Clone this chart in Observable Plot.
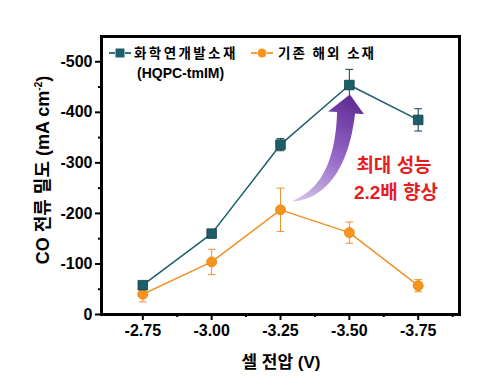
<!DOCTYPE html>
<html><head><meta charset="utf-8">
<script src="https://cdn.jsdelivr.net/npm/d3@7"></script>
<script src="https://cdn.jsdelivr.net/npm/@observablehq/plot@0.6"></script>
<style>body{margin:0;background:#fff} #chart{width:495px;height:391px}</style>
</head><body><div id="chart"></div>
<script>
// ---- data ----
const voltages = [-2.75, -3.00, -3.25, -3.50, -3.75];
const kriValues = [-58, -160, -336, -454, -385];
const kriErrors = [5, 5, 12, 31, 22];
const foreignValues = [-40, -104, -207, -162, -57];
const foreignErrors = [15, 25, 43, 21, 12];
const xTicks = [-2.75, -3.00, -3.25, -3.50, -3.75];
const xMinorTicks = [-2.875, -3.125, -3.375, -3.625, -3.875];
const yTicks = [0, -100, -200, -300, -400, -500];
const yMinorTicks = [-50, -150, -250, -350, -450];
const seriesNames = ["화학연개발소재", "기존 해외 소재"];
const seriesSub = "(HQPC-tmIM)";
const xLabel = "셀 전압 (V)";
const yLabel = "CO 전류 밀도 (mA cm";
const noteLines = ["최대 성능", "2.2배 향상"];
// arrow: tail, bend control, shaft end, tip (data units)
const arrowTail = {v: -3.2936, j: -223};
const arrowBend = {v: -3.468, j: -245};
const arrowShaft = {v: -3.49, j: -398};
const arrowTip = {v: -3.504, j: -434};

const teal = "#1c5f6b", tealDark = "#0f3f48", orange = "#f7941d", orangeLine = "#f0922a";
const capHalf = 0.014;

const kri = voltages.map((v, i) => ({v, j: kriValues[i], e: kriErrors[i]}));
const foreign = voltages.map((v, i) => ({v, j: foreignValues[i], e: foreignErrors[i]}));

const errMarks = (data, color) => [
  Plot.link(data, {x1: "v", x2: "v", y1: d => d.j - d.e, y2: d => d.j + d.e, stroke: color, strokeWidth: 1}),
  Plot.link(data, {x1: d => d.v - capHalf, x2: d => d.v + capHalf, y1: d => d.j - d.e, y2: d => d.j - d.e, stroke: color, strokeWidth: 1}),
  Plot.link(data, {x1: d => d.v - capHalf, x2: d => d.v + capHalf, y1: d => d.j + d.e, y2: d => d.j + d.e, stroke: color, strokeWidth: 1})
];

const chart = Plot.plot({
  width: 495, height: 391,
  marginLeft: 101, marginRight: 36, marginTop: 36, marginBottom: 77,
  style: {fontFamily: "'Liberation Sans', Arial, sans-serif", fontWeight: "bold", fontSize: "16px", color: "#000", background: "#fff", overflow: "visible"},
  x: {domain: [-2.6, -3.9]},
  y: {domain: [0, -550]},
  marks: [
    Plot.axisX(xTicks, {tickSize: 6, tickPadding: 4, strokeWidth: 2, tickFormat: d => d.toFixed(2), label: null, fontSize: 16}),
    Plot.axisX(xMinorTicks, {tickSize: 3, strokeWidth: 2, tickFormat: () => "", label: null}),
    Plot.axisY(yTicks, {tickSize: 6, tickPadding: 3, strokeWidth: 2, tickFormat: d => String(d), label: null, fontSize: 16}),
    Plot.axisY(yMinorTicks, {tickSize: 3, strokeWidth: 2, tickFormat: () => "", label: null}),
    ...errMarks(foreign, orangeLine),
    Plot.line(foreign, {x: "v", y: "j", stroke: orangeLine, strokeWidth: 1.5}),
    Plot.dot(foreign, {x: "v", y: "j", r: 5, fill: orange, stroke: "#e98512", strokeWidth: 0.8}),
    ...errMarks(kri, tealDark),
    Plot.line(kri, {x: "v", y: "j", stroke: teal, strokeWidth: 1.5}),
    Plot.dot(kri, {x: "v", y: "j", r: 5.4, symbol: "square", fill: teal, stroke: tealDark, strokeWidth: 0.8}),
    Plot.frame({stroke: "#000", strokeWidth: 3})
  ]
});
document.getElementById("chart").appendChild(chart);

const sx = chart.scale("x"), sy = chart.scale("y");
const svg = d3.select(chart);
const korean = "'Liberation Sans', 'Noto Sans CJK KR', sans-serif";

// ---- arrow (curved tapered, gradient) ----
const P = p => [sx.apply(p.v), sy.apply(p.j)];
const T = P(arrowTail), C = P(arrowBend), S = P(arrowShaft), H = P(arrowTip);
const defs = svg.insert("defs", ":first-child");
const grad = defs.append("linearGradient").attr("id", "arrowGrad").attr("gradientUnits", "userSpaceOnUse")
  .attr("x1", T[0]).attr("y1", T[1]).attr("x2", H[0]).attr("y2", H[1]);
grad.append("stop").attr("offset", "0").attr("stop-color", "#d8c8ec");
grad.append("stop").attr("offset", "0.5").attr("stop-color", "#9466c6");
grad.append("stop").attr("offset", "1").attr("stop-color", "#5e2a93");
const N = 30, wMax = 9, left = [], right = [];
for (let k = 0; k <= N; k++) {
  const t = k / N;
  const x = (1-t)*(1-t)*T[0] + 2*t*(1-t)*C[0] + t*t*S[0];
  const y = (1-t)*(1-t)*T[1] + 2*t*(1-t)*C[1] + t*t*S[1];
  const dx = 2*(1-t)*(C[0]-T[0]) + 2*t*(S[0]-C[0]);
  const dy = 2*(1-t)*(C[1]-T[1]) + 2*t*(S[1]-C[1]);
  const L = Math.hypot(dx, dy) || 1;
  const nx = -dy / L, ny = dx / L;
  const w = wMax * Math.pow(t, 0.7);
  left.push([x + nx*w, y + ny*w]);
  right.push([x - nx*w, y - ny*w]);
}
// head
const dxs = S[0] - C[0], dys = S[1] - C[1], Ls = Math.hypot(dxs, dys);
const nxs = -dys / Ls, nys = dxs / Ls, headHalf = 18;
const hl = [S[0] + nxs*headHalf, S[1] + nys*headHalf], hr = [S[0] - nxs*headHalf, S[1] - nys*headHalf];
const pts = [...left, hl, H, hr, ...right.reverse()];
svg.append("path").attr("d", "M" + pts.map(p => p[0].toFixed(1) + "," + p[1].toFixed(1)).join("L") + "Z")
  .attr("fill", "url(#arrowGrad)");

// ---- note text ----
const note = svg.append("text").attr("font-family", korean).attr("font-weight", "bold")
  .attr("font-size", 19).attr("fill", "#e31e24").attr("text-anchor", "middle");
note.append("tspan").attr("x", 394).attr("y", 172).text(noteLines[0]);
note.append("tspan").attr("x", 396).attr("y", 199).text(noteLines[1]);

// ---- legend ----
const lg = svg.append("g").attr("font-family", korean).attr("font-weight", "bold").attr("font-size", 13.5).attr("text-anchor", "start");
function legendSym(g, x, y, color, sym) {
  g.append("line").attr("x1", x - 11).attr("x2", x - 5).attr("y1", y).attr("y2", y).attr("stroke", color).attr("stroke-width", 1.8);
  g.append("line").attr("x1", x + 5).attr("x2", x + 11).attr("y1", y).attr("y2", y).attr("stroke", color).attr("stroke-width", 1.8);
  if (sym === "square") g.append("rect").attr("x", x - 4.5).attr("y", y - 4.5).attr("width", 9).attr("height", 9).attr("fill", teal);
  else g.append("circle").attr("cx", x).attr("cy", y).attr("r", 4.5).attr("fill", orange);
}
legendSym(lg, 120, 53, teal, "square");
lg.append("text").attr("x", 134).attr("y", 58).attr("letter-spacing", 2.4).text(seriesNames[0]);
lg.append("text").attr("x", 137).attr("y", 78).attr("font-size", 14).text(seriesSub);
legendSym(lg, 262, 53, orange, "circle");
lg.append("text").attr("x", 278).attr("y", 58).attr("letter-spacing", 2).text(seriesNames[1]);

// ---- axis labels ----
svg.append("text").attr("x", 281).attr("y", 368).attr("text-anchor", "middle")
  .attr("font-family", korean).attr("font-weight", "bold").attr("font-size", 17).text(xLabel);
const yl = svg.append("text").attr("transform", "translate(49,170) rotate(-90)").attr("text-anchor", "middle")
  .attr("font-family", korean).attr("font-weight", "bold").attr("font-size", 18);
yl.append("tspan").text(yLabel);
yl.append("tspan").attr("dy", -7).attr("font-size", 10).text("-2");
yl.append("tspan").attr("dy", 7).text(")");
</script>
</body></html>
